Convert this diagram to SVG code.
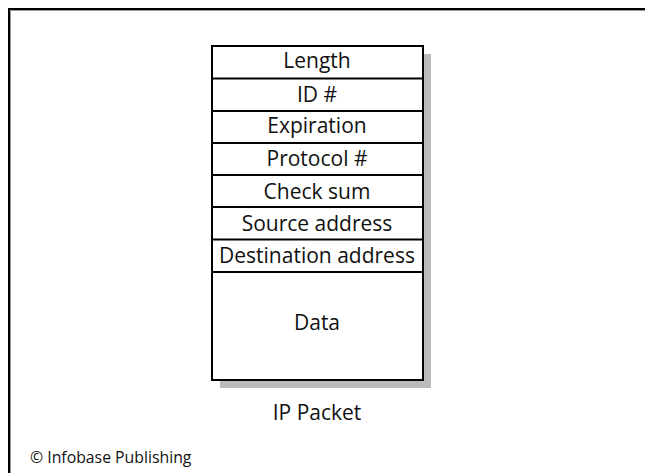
<svg xmlns="http://www.w3.org/2000/svg" width="645" height="473" viewBox="0 0 645 473">
<style>
.t{font-family:"Open Sans","Noto Sans","DejaVu Sans",sans-serif;font-size:21px;fill:#111;text-anchor:middle}
.cell{fill:#fff;stroke:#000;stroke-width:2}
.sep{stroke:#000;stroke-width:2}
</style>
<rect width="645" height="473" fill="#fff"/>
<g id="frame">
<path d="M9,480 V9 H650" fill="none" stroke="#000" stroke-width="2"/>
<path d="M10.5,480 V10.5 H650" fill="none" stroke="#999" stroke-width="1"/>
</g>
<g id="packet">
<rect x="220" y="54" width="211" height="334" fill="#bbb"/>
<rect x="212" y="46" width="211" height="334" class="cell"/>
<g id="length"><text class="t" x="317" y="68">Length</text></g>
<line class="sep" x1="212" y1="78.5" x2="423" y2="78.5"/>
<g id="id"><text class="t" x="317" y="102">ID #</text></g>
<line class="sep" x1="212" y1="111" x2="423" y2="111"/>
<g id="expiration"><text class="t" x="317" y="133">Expiration</text></g>
<line class="sep" x1="212" y1="143" x2="423" y2="143"/>
<g id="protocol"><text class="t" x="317" y="166">Protocol #</text></g>
<line class="sep" x1="212" y1="175" x2="423" y2="175"/>
<g id="checksum"><text class="t" x="317" y="199">Check sum</text></g>
<line class="sep" x1="212" y1="207" x2="423" y2="207"/>
<g id="source"><text class="t" x="317" y="231">Source address</text></g>
<line class="sep" x1="212" y1="239.5" x2="423" y2="239.5"/>
<g id="destination"><text class="t" x="317" y="263">Destination address</text></g>
<line class="sep" x1="212" y1="272" x2="423" y2="272"/>
<g id="data"><text class="t" x="317" y="330">Data</text></g>
</g>
<text class="t" x="317" y="420">IP Packet</text>
<text x="30" y="463" style="font-family:'Open Sans','Noto Sans','DejaVu Sans',sans-serif;font-size:15.8px;fill:#111">© Infobase Publishing</text>
</svg>
